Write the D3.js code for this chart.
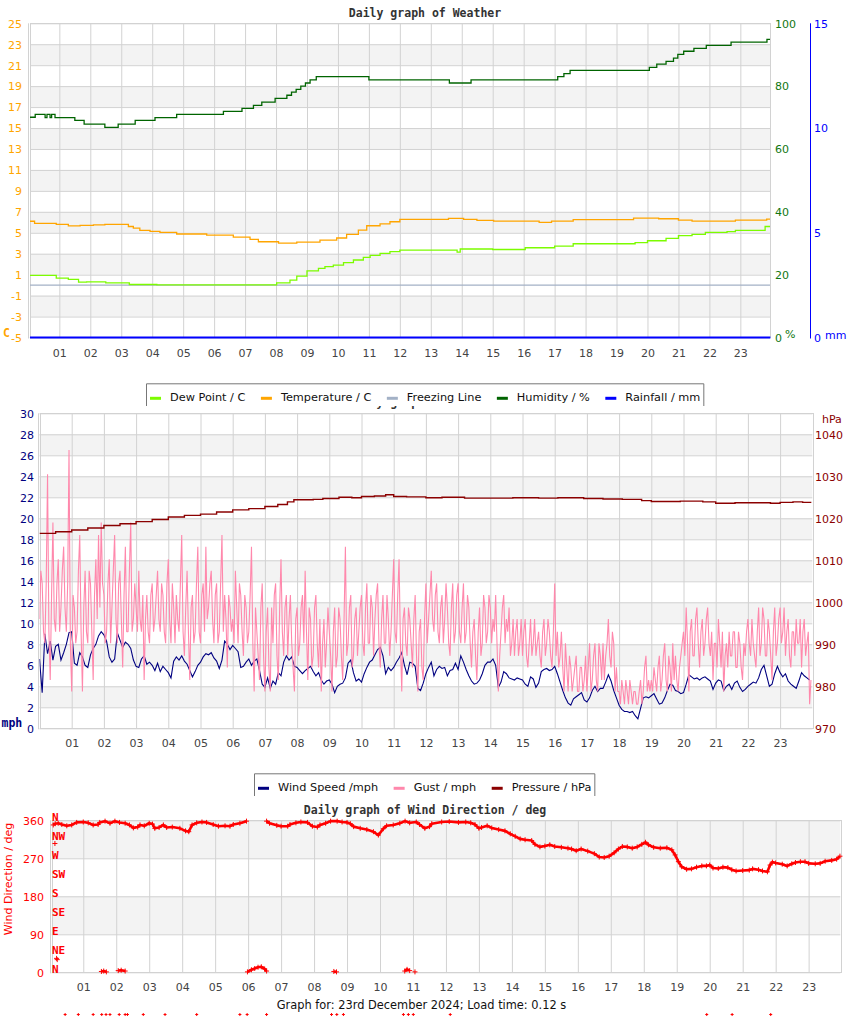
<!DOCTYPE html>
<html><head><meta charset="utf-8">
<script src="https://cdn.jsdelivr.net/npm/d3@7"></script>
<style>
body{margin:0;background:#fff;}
svg{display:block;}
text{font-family:"DejaVu Sans",sans-serif;font-size:11px;}
</style></head><body>
<svg id="c" width="850" height="1017"></svg>
<script>
// ---------------- DATA ----------------
const hourTicks = [1,2,3,4,5,6,7,8,9,10,11,12,13,14,15,16,17,18,19,20,21,22,23];
const hourLabels = ["01","02","03","04","05","06","07","08","09","10","11","12","13","14","15","16","17","18","19","20","21","22","23"];

const tempTicks = [25,23,21,19,17,15,13,11,9,7,5,3,1,-1,-3,-5];
const humTicks = [100,80,60,40,20,0];
const rainTicks = [15,10,5,0];
const windTicks = [30,28,26,24,22,20,18,16,14,12,10,8,6,4,2,0];
const pressTicks = [1040,1030,1020,1010,1000,990,980,970];
const dirTicks = [360,270,180,90,0];
const compassLabels = ["N","NW","W","SW","S","SE","E","NE","N"];
const compassValues = [360,315,270,225,180,135,90,45,0];

// [hour, value] pairs (step changes)
const temperature = [[0.05,6.1],[0.2,5.9],[0.9,5.8],[1.29,5.65],[1.67,5.7],[2.1,5.75],[2.47,5.8],[3.23,5.6],[3.39,5.45],[3.6,5.23],[3.93,5.13],[4.25,5.04],[4.79,4.88],[5.76,4.78],[6.62,4.59],[7.16,4.37],[7.43,4.14],[8.08,4.02],[8.67,4.1],[9.42,4.3],[9.96,4.5],[10.28,4.85],[10.66,5.26],[10.93,5.67],[11.36,5.84],[11.68,6.05],[12.0,6.28],[13.57,6.37],[14.06,6.28],[14.49,6.18],[15.03,6.12],[16.5,6.0],[16.9,6.12],[17.6,6.25],[19.55,6.4],[20.36,6.34],[21.0,6.21],[21.44,6.12],[22.84,6.21],[23.85,6.3],[23.97,6.3]];
const dewPoint = [[0.05,0.93],[0.9,0.67],[1.29,0.55],[1.62,0.29],[1.88,0.32],[2.5,0.22],[3.26,0.06],[4.15,0.03],[8.02,0.22],[8.45,0.48],[8.67,0.86],[9.0,1.37],[9.37,1.6],[9.58,1.76],[9.85,1.92],[10.18,2.14],[10.5,2.4],[10.82,2.65],[11.04,2.84],[11.36,3.03],[11.68,3.19],[12.0,3.35],[13.85,3.15],[13.95,3.45],[15.0,3.4],[16.05,3.57],[17.0,3.73],[17.6,3.95],[19.6,4.05],[20.0,4.24],[20.6,4.47],[21.0,4.72],[21.44,4.85],[21.87,5.04],[22.57,5.1],[22.84,5.23],[23.8,5.6],[23.97,5.6]];
const humidity = [[0.05,70.1],[0.22,71.0],[0.54,70.0],[0.6,71.0],[0.7,70.0],[0.75,71.0],[0.86,70.0],[1.5,69.1],[1.8,67.9],[2.47,66.9],[2.9,67.9],[3.45,69.1],[4.09,70.0],[4.79,71.0],[6.3,72.0],[6.9,72.9],[7.27,73.9],[7.54,74.9],[7.97,76.1],[8.35,77.1],[8.5,78.1],[8.65,79.0],[8.8,80.0],[8.95,81.0],[9.1,82.0],[9.3,83.0],[11.0,82.0],[13.6,81.0],[14.3,82.0],[17.1,83.0],[17.3,84.0],[17.5,85.0],[20.06,86.0],[20.3,87.0],[20.6,87.9],[20.84,88.9],[20.98,90.1],[21.17,91.1],[21.5,92.0],[21.9,93.0],[22.7,94.0],[23.86,94.9],[23.97,94.9]];
const freezing = [[0,0],[24,0]];
const rainfall = [[0,0],[24,0]];

// 5-minute samples (12 per hour)
const sampleStep = 1/12;
const windSpeed = [
6.6,3.4,9.0,7.1,8.3,6.5,7.8,8.0,6.5,7.2,8.0,9.1,
9.2,6.2,6.0,7.2,6.8,6.0,5.8,7.0,7.6,8.0,8.8,9.2,
8.9,8.3,6.8,6.3,6.6,9.1,8.4,7.7,8.2,8.0,7.6,6.5,
5.9,5.8,6.6,6.9,6.1,6.3,6.0,5.5,6.2,5.4,5.9,5.6,
5.3,4.8,6.4,6.8,6.5,6.9,6.4,6.1,5.5,4.9,5.4,6.0,
6.3,6.8,7.1,7.0,7.2,6.7,6.4,5.7,6.5,8.3,8.0,7.5,
7.9,7.6,7.3,5.8,5.9,6.3,6.6,6.0,6.4,6.6,5.5,4.2,
3.9,4.8,3.8,4.5,4.2,5.3,5.0,6.3,6.9,6.5,6.8,5.9,
5.8,5.5,5.2,5.5,5.7,5.9,5.4,5.0,5.3,4.6,4.2,4.5,
4.6,4.2,3.4,4.0,4.2,4.3,4.8,6.2,6.5,5.3,4.5,4.7,
4.4,5.2,5.8,6.3,6.5,7.0,7.5,7.7,6.9,5.2,5.8,5.5,
5.8,6.3,6.7,7.2,6.0,5.1,6.3,6.2,5.9,3.8,3.6,4.3,
5.2,5.8,6.3,5.0,5.6,5.9,5.7,5.8,5.0,5.5,5.6,6.2,
5.6,6.9,6.3,5.6,5.0,4.5,4.2,4.3,4.6,5.2,6.0,6.3,
6.3,6.6,6.0,3.9,4.4,5.4,5.2,4.8,4.7,4.6,4.8,4.7,
4.6,4.2,4.0,4.9,4.7,3.9,4.3,5.4,5.6,5.7,5.5,5.6,
5.9,5.2,4.4,3.6,2.9,2.4,2.2,2.8,3.0,3.2,3.4,2.7,
2.5,2.9,3.6,4.0,3.5,3.8,3.8,4.4,5.1,4.5,3.6,2.9,
2.2,1.8,1.6,1.6,1.5,1.6,1.2,0.9,1.9,2.9,3.0,2.9,
3.1,3.3,2.8,2.3,2.4,2.9,3.6,4.2,4.1,3.6,3.5,3.3,
3.4,4.2,5.1,4.9,4.7,4.8,4.6,4.8,4.9,4.7,4.5,3.7,
4.3,4.6,4.5,3.6,4.0,4.2,3.7,4.3,4.5,3.9,3.5,3.7,
4.0,4.2,4.4,4.3,4.8,5.6,6.0,5.0,4.0,4.2,5.2,5.9,
5.3,4.9,5.2,4.5,4.2,4.0,3.8,4.5,5.3,5.0,4.8,4.6];
// gust at each 5-minute mark
const gust = [
10.4,13.8,8.1,24.2,4.6,19.6,9.2,16.1,11.5,17.3,9.2,26.5,
3.5,11.5,9.2,18.4,3.5,15.0,8.1,13.8,4.6,16.1,18.4,19.6,
12.7,9.2,16.1,11.5,18.4,8.1,15.0,5.8,17.3,9.2,19.6,10.4,
11.5,15.0,9.2,4.6,12.7,8.1,13.8,10.4,15.0,9.2,12.7,8.1,
16.1,8.1,11.5,12.7,9.2,18.4,6.9,15.0,4.6,12.7,9.2,17.3,
8.1,13.8,17.3,11.5,15.0,8.1,13.8,9.2,18.4,12.7,5.8,11.5,
10.4,15.0,8.1,12.7,6.9,11.5,9.2,17.3,3.5,9.2,4.6,13.8,
3.5,11.5,3.5,8.1,13.8,4.6,16.1,6.9,12.7,10.4,8.1,3.5,
11.5,8.1,12.7,15.0,4.6,10.4,6.9,12.7,5.8,3.5,10.4,8.1,
9.2,3.5,11.5,6.9,10.4,4.6,17.3,8.1,12.7,6.9,11.5,9.2,
12.7,6.9,13.8,8.1,11.5,10.4,13.8,5.8,12.7,8.1,10.4,9.2,
16.1,8.1,16.1,3.5,11.5,6.9,10.4,5.8,12.7,3.5,10.4,4.6,
13.8,10.4,15.0,9.2,13.8,8.1,12.7,10.4,11.5,6.9,13.8,9.2,
13.8,8.1,13.8,9.2,11.5,5.8,10.4,4.6,11.5,8.1,11.5,9.2,
11.5,10.4,12.7,3.5,9.2,12.7,10.4,11.5,8.1,6.9,10.4,8.1,
6.9,10.4,5.8,10.4,8.1,6.9,9.2,5.8,10.4,8.1,9.2,5.8,
13.8,9.2,6.9,5.8,8.1,3.5,5.8,4.6,6.9,3.5,5.8,4.6,
3.5,8.1,4.6,8.1,3.5,6.9,8.1,6.9,10.4,5.8,8.1,5.8,
3.5,4.6,2.3,3.5,4.6,2.3,3.5,2.3,4.6,3.5,6.9,4.6,
4.6,5.8,3.5,6.9,4.6,8.1,3.5,5.8,8.1,6.9,3.5,6.9,
9.2,11.5,3.5,10.4,6.9,11.5,5.8,10.4,8.1,11.5,6.9,4.6,
8.1,10.4,5.8,3.5,8.1,9.2,6.9,9.2,5.8,8.1,4.6,6.9,
10.4,6.9,8.1,5.8,11.5,8.1,10.4,6.9,9.2,4.6,11.5,8.1,
11.5,9.2,6.9,10.4,5.8,9.2,10.4,8.1,5.8,10.4,8.1,2.3];
// gust half-way between the 5-minute marks
const gustMid = [
15.0,9.2,13.8,9.2,12.7,10.4,13.8,9.2,15.0,11.5,13.8,8.1,
12.7,8.1,15.0,9.2,11.5,9.2,15.0,9.2,12.7,10.4,11.5,13.8,
8.1,13.8,8.1,15.0,10.4,13.8,10.4,12.7,9.2,15.0,9.2,13.8,
9.2,10.4,12.7,10.4,9.2,12.7,9.2,12.7,10.4,13.8,9.2,13.8,
10.4,13.8,8.1,10.4,13.8,9.2,11.5,9.2,11.5,8.1,13.8,9.2,
12.7,9.2,10.4,13.8,10.4,12.7,8.1,13.8,9.2,10.4,12.7,9.2,
8.1,11.5,13.8,9.2,12.7,8.1,12.7,8.1,11.5,6.9,11.5,6.9,
9.2,5.8,11.5,12.7,6.9,11.5,9.2,11.5,6.9,12.7,5.8,10.4,
6.9,11.5,8.1,9.2,11.5,5.8,11.5,8.1,10.4,8.1,5.8,11.5,
6.9,9.2,5.8,11.5,6.9,10.4,6.9,11.5,5.8,10.4,6.9,11.5,
8.1,11.5,8.1,12.7,6.9,12.7,8.1,10.4,8.1,12.7,6.9,12.7,
9.2,12.7,8.1,10.4,8.1,11.5,8.1,10.4,6.9,9.2,5.8,10.4,
8.1,12.7,10.4,12.7,9.2,11.5,8.1,13.8,8.1,11.5,8.1,12.7,
9.2,11.5,8.1,12.7,8.1,9.2,6.9,9.2,6.9,12.7,8.1,12.7,
8.1,9.2,8.1,6.9,11.5,8.1,9.2,6.9,10.4,9.2,6.9,10.4,
9.2,6.9,8.1,6.9,10.4,8.1,6.9,9.2,6.9,10.4,6.9,9.2,
6.9,5.8,9.2,3.5,5.8,6.9,3.5,5.8,3.5,5.8,3.5,6.9,
5.8,3.5,6.9,4.6,8.1,4.6,4.6,8.1,6.9,9.2,3.5,3.5,
2.3,3.5,4.6,2.3,3.5,3.5,2.3,3.5,2.3,5.8,3.5,3.5,
3.5,4.6,5.8,3.5,6.9,4.6,6.9,3.5,4.6,4.6,5.8,8.1,
6.9,8.1,9.2,6.9,10.4,8.1,9.2,6.9,10.4,8.1,9.2,8.1,
5.8,8.1,9.2,6.9,5.8,6.9,9.2,5.8,9.2,5.8,8.1,9.2,
8.1,10.4,6.9,9.2,6.9,11.5,6.9,10.4,6.9,9.2,6.9,10.4,
8.1,11.5,9.2,6.9,9.2,6.9,8.1,10.4,9.2,6.9,9.2,4.6];
const pressure = [[0,1016.4],[0.5,1016.8],[1,1017.2],[1.5,1017.7],[2,1018.3],[2.5,1018.7],[3,1019.2],[3.5,1019.7],[4,1020.3],[4.5,1020.7],[5,1021.0],[5.5,1021.5],[6,1022.0],[6.5,1022.3],[7,1022.8],[7.4,1023.3],[7.7,1023.9],[7.9,1024.4],[8.5,1024.5],[8.8,1024.7],[9.3,1025.0],[9.7,1024.9],[10.0,1025.2],[10.4,1025.3],[10.75,1025.6],[11.0,1025.2],[11.4,1025.1],[12,1024.9],[12.5,1025.0],[13.2,1024.8],[14.2,1024.8],[14.7,1024.9],[15.5,1024.8],[16.1,1024.9],[16.9,1024.7],[17.5,1024.6],[18.1,1024.5],[18.7,1024.2],[19.0,1024.0],[19.9,1024.1],[20.6,1023.9],[21.0,1023.6],[21.6,1023.7],[22.7,1023.6],[23.0,1023.8],[23.4,1023.9],[23.7,1023.8],[23.97,1023.8]];

const windDir = [[0.09,349],[0.15,352],[0.24,353],[0.35,350],[0.5,347],[0.65,349],[0.8,355],[1.0,356],[1.15,354],[1.3,349],[1.45,350],[1.5,355],[1.66,358],[1.81,353],[1.96,358],[2.1,355],[2.27,353],[2.4,349],[2.52,342],[2.65,344],[2.72,349],[2.85,347],[3.0,353],[3.1,351],[3.17,341],[3.3,343],[3.43,349],[3.53,343],[3.7,344],[3.93,341],[4.1,335],[4.2,333],[4.3,349],[4.44,354],[4.6,356],[4.74,355],[4.94,350],[5.1,346],[5.3,347],[5.45,346],[5.55,350],[5.75,353],[5.95,358],
[6.56,358],[6.65,353],[6.87,348],[7.0,346],[7.2,346],[7.27,350],[7.45,354],[7.6,356],[7.8,355],[7.95,346],[8.1,344],[8.18,349],[8.35,353],[8.5,358],[8.7,358],[8.85,356],[9.0,355],[9.1,352],[9.2,345],[9.4,341],[9.6,338],[9.8,333],[9.95,325],[10.1,340],[10.2,347],[10.4,349],[10.6,353],[10.76,358],[10.9,354],[11.1,356],[11.2,350],[11.36,341],[11.5,345],[11.57,352],[11.87,356],[12.1,357],[12.38,355],[12.6,356],[12.75,354],[12.88,350],[13.0,341],[13.08,343],[13.25,347],[13.39,342],[13.6,338],[13.79,335],[13.95,328],[14.1,322],[14.25,316],[14.4,314],[14.6,312],[14.7,303],[14.85,297],[15.0,299],[15.15,302],[15.3,298],[15.5,296],[15.7,294],[15.81,292],[15.95,288],[16.1,292],[16.3,287],[16.5,281],[16.65,273],[16.8,272],[16.95,275],[17.1,283],[17.23,292],[17.35,298],[17.5,297],[17.65,294],[17.8,297],[17.94,303],[18.05,308],[18.14,302],[18.3,296],[18.5,294],[18.7,295],[18.85,290],[18.95,278],[19.05,262],[19.15,250],[19.3,244],[19.45,245],[19.6,249],[19.76,252],[19.9,252],[20.0,254],[20.1,247],[20.26,246],[20.4,249],[20.55,248],[20.67,243],[20.8,240],[21.0,241],[21.2,242],[21.3,245],[21.48,243],[21.6,240],[21.75,238],[21.83,254],[21.9,261],[22.0,259],[22.2,256],[22.35,252],[22.49,257],[22.6,260],[22.75,262],[22.89,262],[23.0,258],[23.2,257],[23.35,258],[23.5,263],[23.7,265],[23.85,268],[23.95,275]];
const windDirNorth = [
 [[1.55,2],[1.62,3],[1.7,1]],
 [[2.06,4],[2.15,5],[2.27,3]],
 [[5.98,1],[6.1,6],[6.2,9],[6.3,12],[6.4,13],[6.5,8],[6.56,3]],
 [[8.6,2],[8.68,1]],
 [[10.75,3],[10.82,7],[10.9,4]],
 [[11.06,1]]];
const windDirStray = [[0.14,305],[0.19,33],[0.21,30]];
const invalidDirHours = [0.45,0.85,1.3,1.56,1.69,1.81,2.09,2.27,2.34,2.82,3.48,4.44,5.75,5.97,6.56,8.53,8.69,8.89,10.71,10.86,11.01,12.13,19.91,20.68,21.85];
const invalidDirValue = -100;

// ---------------- DRAW ----------------
const svg = d3.select("#c");
const grid = "#d2d2d2", band = "#f3f3f3";

function frame(o){
  const g = svg.append("g");
  for (let i=0;i<o.ticks.length-1;i++){
    if (i%2===o.parity){
      const a=o.y(o.ticks[i]), b=o.y(o.ticks[i+1]);
      g.append("rect").attr("x",o.L).attr("width",o.R-o.L).attr("y",Math.min(a,b)).attr("height",Math.abs(b-a)).attr("fill",band);
    }
  }
  g.append("g").attr("transform",`translate(${o.L},0)`)
    .call(d3.axisLeft(o.y).tickValues(o.ticks).tickSize(-(o.R-o.L)).tickFormat(""))
    .call(s=>{s.select(".domain").remove();s.selectAll("line").attr("stroke",grid);});
  g.append("g").attr("transform",`translate(0,${o.B})`)
    .call(d3.axisBottom(o.x).tickValues(hourTicks).tickSize(-(o.B-o.T)).tickFormat(""))
    .call(s=>{s.select(".domain").remove();s.selectAll("line").attr("stroke",grid);});
  g.append("rect").attr("x",Math.round(o.L)+0.5).attr("y",Math.round(o.T)+0.5)
    .attr("width",Math.round(o.R-o.L)).attr("height",Math.round(o.B-o.T))
    .attr("fill","none").attr("stroke",grid);
  g.append("line").attr("x1",Math.round(o.L)-1.5).attr("x2",Math.round(o.L)-1.5)
    .attr("y1",o.T).attr("y2",o.B+1).attr("stroke",grid);
  const ax = g.append("g").attr("transform",`translate(0,${o.B})`)
    .call(d3.axisBottom(o.x).tickValues(hourTicks).tickSize(0).tickFormat((d,i)=>hourLabels[i]));
  ax.select(".domain").remove();
  ax.selectAll("text").attr("y",o.labOff).attr("dy","0.35em").attr("fill","#444")
    .style("font-family","DejaVu Sans").style("font-size","11px");
  const cp = "clip"+o.id;
  svg.append("clipPath").attr("id",cp).append("rect").attr("x",o.L).attr("y",o.T-1).attr("width",o.R-o.L).attr("height",o.B-o.T+2);
  return cp;
}
function yLabels(scale, ticks, x, side, color, fmt){
  const ax = side==="left" ? d3.axisLeft(scale) : d3.axisRight(scale);
  const g = svg.append("g").attr("transform",`translate(${x},0)`)
    .call(ax.tickValues(ticks).tickSize(0).tickPadding(0).tickFormat(fmt||(d=>d)));
  g.select(".domain").remove();
  g.selectAll("text").attr("fill",color).attr("dy","0.35em").style("font-family","DejaVu Sans").style("font-size","11px");
  return g;
}
function title(txt, y){
  svg.append("text").attr("x",425).attr("y",y).attr("dy","0.35em").attr("text-anchor","middle")
    .style("font-family","DejaVu Sans Mono").style("font-weight","bold").style("font-size","11.5px")
    .attr("fill","#333").text(txt);
}
function legend(items, top, bottom){
  const g = svg.append("g");
  const bg = g.append("rect").attr("y",top).attr("height",bottom-top).attr("fill","#fff");
  const border = g.append("path").attr("fill","none").attr("stroke","#777");
  let x = 0; const cy = top + 14;
  const parts = [];
  items.forEach(it=>{
    const ln = g.append("line").attr("stroke",it.color).attr("stroke-width",3).attr("y1",cy+1).attr("y2",cy+1);
    const tx = g.append("text").attr("y",cy).attr("dy","0.35em").attr("fill","#111").style("font-size","11.3px").text(it.label);
    const w = tx.node().getComputedTextLength();
    parts.push({ln,tx,x}); x += 20 + w + 15.5;
  });
  const total = x - 15.5 + 8;
  const x0 = Math.round(425 - total/2);
  parts.forEach(p=>{ const px=x0+4+p.x; p.ln.attr("x1",px).attr("x2",px+11); p.tx.attr("x",px+20); });
  bg.attr("x",x0).attr("width",total);
  border.attr("d",`M${x0+0.5},${bottom}V${top+0.5}H${x0+total-0.5}V${bottom}`);
}

// ===== Chart 1 =====
const C1 = {id:1,L:30,R:770,T:23.3,B:337.5,labOff:16,parity:1};
C1.x = d3.scaleLinear([0,24],[28.4,771.3]);
C1.y = d3.scaleLinear([-5,25],[C1.B,C1.T]);
C1.ticks = tempTicks;
const yHum = d3.scaleLinear([0,100],[C1.B,C1.T]);
const yRain = d3.scaleLinear([0,15],[C1.B,C1.T]);
title("Daily graph of Weather", 13);
const cp1 = frame(C1);
const step = (x,y)=>d3.line().x(d=>x(d[0])).y(d=>y(d[1])).curve(d3.curveStepAfter);
const g1 = svg.append("g").attr("clip-path",`url(#${cp1})`);
g1.append("path").attr("d",step(C1.x,C1.y)(freezing)).attr("fill","none").attr("stroke","#a3b1c6").attr("stroke-width",1.2);
g1.append("path").attr("d",step(C1.x,C1.y)(dewPoint)).attr("fill","none").attr("stroke","#7cfc00").attr("stroke-width",1.3);
g1.append("path").attr("d",step(C1.x,C1.y)(temperature)).attr("fill","none").attr("stroke","#ffa500").attr("stroke-width",1.3);
g1.append("path").attr("d",step(C1.x,yHum)(humidity)).attr("fill","none").attr("stroke","#006400").attr("stroke-width",1.3);
svg.append("path").attr("d",d3.line().x(d=>C1.x(d[0])).y(d=>yRain(d[1]))(rainfall.map(d=>[Math.min(Math.max(d[0],0.05),23.97),d[1]])))
  .attr("fill","none").attr("stroke","#0000ff").attr("stroke-width",2);
yLabels(C1.y, tempTicks, 22, "left", "#ffa500");
yLabels(yHum, humTicks, 775, "right", "#117711");
svg.append("line").attr("x1",810.5).attr("x2",810.5).attr("y1",C1.T).attr("y2",C1.B+1).attr("stroke","#0000ff");
yLabels(yRain, rainTicks, 814, "right", "#0000ff");
svg.append("text").attr("x",3).attr("y",333).attr("dy","0.35em").attr("fill","#ffa500")
  .style("font-family","DejaVu Sans Mono").style("font-weight","bold").style("font-size","11.5px").text("C");
svg.append("text").attr("x",785).attr("y",334).attr("dy","0.35em").attr("fill","#117711").text("%");
svg.append("text").attr("x",825).attr("y",335).attr("dy","0.35em").attr("fill","#0000ff").text("mm");

// ===== Chart 2 =====
title("Daily graph of Weather", 401.5);
legend([{label:"Dew Point / C",color:"#7cfc00"},{label:"Temperature / C",color:"#ffa500"},{label:"Freezing Line",color:"#a3b1c6"},{label:"Humidity / %",color:"#006400"},{label:"Rainfall / mm",color:"#0000ff"}],383.3,406);
const C2 = {id:2,L:39.5,R:812.3,T:413.3,B:728.3,labOff:14.5,parity:1};
C2.x = d3.scaleLinear([0,24],[39.5,812.3]);
C2.y = d3.scaleLinear([0,30],[C2.B,C2.T]);
C2.ticks = windTicks;
const yPress = d3.scaleLinear([970,1045],[C2.B,C2.T]);
const cp2 = frame(C2);
const g2 = svg.append("g").attr("clip-path",`url(#${cp2})`);
const sLine = d3.line().x((d,i)=>C2.x(i*sampleStep)).y(d=>C2.y(d));
const gustPts = gust.flatMap((v,k)=>[[k*sampleStep, v],[k*sampleStep+sampleStep/2, gustMid[k]]]);
const gLine = d3.line().x(d=>C2.x(d[0])).y(d=>C2.y(d[1]));
g2.append("path").attr("d",sLine(windSpeed)).attr("fill","none").attr("stroke","#000080").attr("stroke-width",1.1);
g2.append("path").attr("d",gLine(gustPts)).attr("fill","none").attr("stroke","#ff88ac").attr("stroke-width",1.1).attr("stroke-linejoin","bevel");
g2.append("path").attr("d",step(C2.x,yPress)(pressure)).attr("fill","none").attr("stroke","#8b0000").attr("stroke-width",1.4);
yLabels(C2.y, windTicks, 34, "left", "#000080");
yLabels(yPress, pressTicks, 815, "right", "#8b0000");
svg.append("text").attr("x",1.5).attr("y",723.3).attr("dy","0.35em").attr("fill","#000080")
  .style("font-family","DejaVu Sans Mono").style("font-weight","bold").style("font-size","11.5px").text("mph");
svg.append("text").attr("x",822).attr("y",419.3).attr("dy","0.35em").attr("fill","#8b0000").text("hPa");

// ===== Chart 3 =====
legend([{label:"Wind Speed /mph",color:"#000080"},{label:"Gust / mph",color:"#ff88ac"},{label:"Pressure / hPa",color:"#8b0000"}],773.3,796);
title("Daily graph of Wind Direction / deg", 810);
const C3 = {id:3,L:51.7,R:840.3,T:820.3,B:972.3,labOff:15,parity:0};
C3.x = d3.scaleLinear([0,24],[50.3,841.6]);
C3.y = d3.scaleLinear([0,360],[C3.B,C3.T]);
C3.ticks = dirTicks;
frame(C3);
yLabels(C3.y, dirTicks, 44, "left", "#ff0000");
const cg = svg.append("g");
compassLabels.forEach((t,i)=>{
  cg.append("text").attr("x",52).attr("y",C3.y(compassValues[i])-3).attr("dy","0.35em").attr("fill","#ff0000")
    .style("font-family","DejaVu Sans Mono").style("font-weight","bold").style("font-size","11px").text(t);
});
svg.append("text").attr("transform","translate(12,879) rotate(-90)").attr("text-anchor","middle").attr("fill","#ff0000").text("Wind Direction / deg");
function segs(pts){
  const out=[]; let cur=[pts[0]];
  for(let i=1;i<pts.length;i++){
    if(Math.abs(pts[i][1]-pts[i-1][1])>40 || pts[i][0]-pts[i-1][0]>0.3){out.push(cur);cur=[];}
    cur.push(pts[i]);
  }
  out.push(cur); return out;
}
const dLine = d3.line().x(d=>C3.x(d[0])).y(d=>C3.y(d[1]));
const dg = svg.append("g");
[...segs(windDir), ...windDirNorth].forEach(s=>{
  dg.append("path").attr("d",dLine(s)).attr("fill","none").attr("stroke","#ff0000").attr("stroke-width",2.6).attr("stroke-linejoin","round");
});
const allPts = windDir.concat(...windDirNorth, windDirStray);
dg.selectAll("path.x").data(allPts).join("path").attr("class","x")
  .attr("d",d=>`M${C3.x(d[0])-2.5},${C3.y(d[1])}h5M${C3.x(d[0])},${C3.y(d[1])-2.5}v5`)
  .attr("stroke","#ff0000").attr("stroke-width",1).attr("fill","none");
dg.selectAll("path.inv").data(invalidDirHours).join("path").attr("class","inv")
  .attr("d",h=>`M${C3.x(h)-1.5},${C3.y(invalidDirValue)}h3M${C3.x(h)},${C3.y(invalidDirValue)-1.5}v3`)
  .attr("stroke","#ff0000").attr("stroke-width",1).attr("fill","none");

svg.append("text").attr("x",421.5).attr("y",1005).attr("dy","0.35em").attr("text-anchor","middle").attr("fill","#111")
  .style("font-size","11.4px").text("Graph for: 23rd December 2024; Load time: 0.12 s");
</script>
</body></html>
